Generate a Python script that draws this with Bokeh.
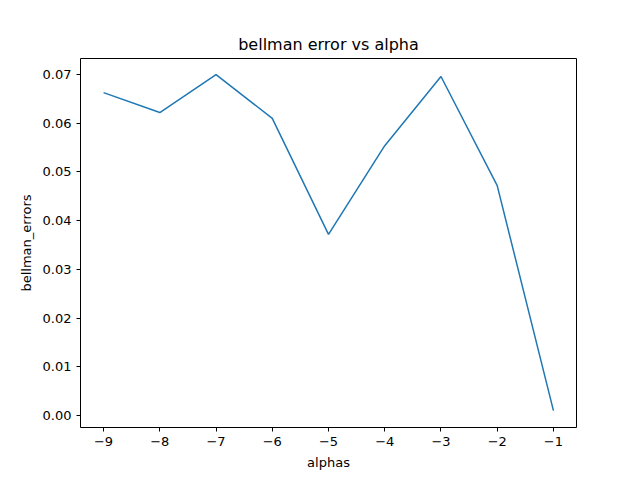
from bokeh.plotting import figure
from bokeh.embed import file_html
from bokeh.resources import INLINE
from bokeh.models import Range1d, FixedTicker

alphas = [-9, -8, -7, -6, -5, -4, -3, -2, -1]
bellman_errors = [0.0663, 0.0622, 0.0700, 0.0610, 0.0372, 0.0554, 0.0696, 0.0472, 0.0010]
xticks = [-9, -8, -7, -6, -5, -4, -3, -2, -1]
yticks = [0.0, 0.01, 0.02, 0.03, 0.04, 0.05, 0.06, 0.07]

p = figure(width=640, height=480, output_backend="svg", toolbar_location=None,
           x_range=Range1d(-9.41, -0.59), y_range=Range1d(-0.00246, 0.0733),
           min_border_left=80, min_border_right=64, min_border_top=58, min_border_bottom=53,
           title="bellman error vs alpha")
p.line(alphas, bellman_errors, line_color="#1f77b4", line_width=1.5)
p.title.align = "center"
p.title.text_font = "DejaVu Sans"
p.title.text_font_size = "16px"
p.title.text_font_style = "normal"
p.title.text_color = "black"
p.grid.visible = False
p.outline_line_color = "black"
p.outline_line_alpha = 1
p.xaxis.ticker = FixedTicker(ticks=xticks)
p.yaxis.ticker = FixedTicker(ticks=yticks)
p.xaxis.major_label_overrides = {t: "\u2212%d" % (-t) for t in xticks}
p.yaxis.major_label_overrides = {t: "%.2f" % t for t in yticks}
p.xaxis.axis_label = "alphas"
p.yaxis.axis_label = "bellman_errors"
for ax in (p.xaxis[0], p.yaxis[0]):
    ax.axis_label_text_font = "DejaVu Sans"
    ax.axis_label_text_font_size = "13px"
    ax.axis_label_text_font_style = "normal"
    ax.axis_label_text_color = "black"
    ax.major_label_text_font = "DejaVu Sans"
    ax.major_label_text_font_size = "13px"
    ax.major_label_text_color = "black"
    ax.major_tick_line_color = "black"
    ax.minor_tick_line_color = None
    ax.major_tick_in = 0
    ax.major_tick_out = 4
    ax.axis_line_color = None
    ax.axis_label_standoff = 6

open("out.html", "w").write(file_html(p, INLINE))
